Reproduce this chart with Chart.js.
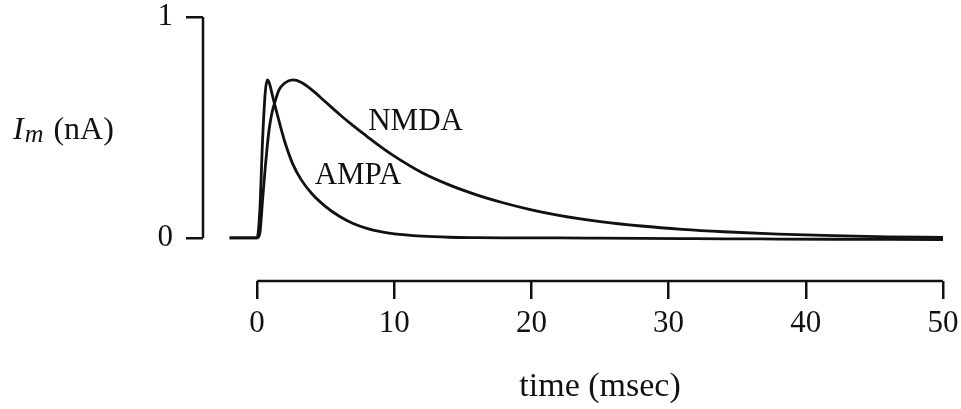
<!DOCTYPE html>
<html lang="en">

<head>
    <meta charset="UTF-8">
    <title>AMPA and NMDA currents</title>
    <script src="https://cdn.jsdelivr.net/npm/chart.js"></script>
    <style>
        body {
            margin: 0;
            background: #fff;
        }

        .wrap {
            width: 961px;
            height: 409px;
        }
    </style>
</head>

<body>
    <div class="wrap">
        <canvas id="currents"></canvas>
    </div>

    <script>
        // values
        const timeMs = [-2, 0, 0.2, 0.4, 0.6, 0.75, 0.9, 1.1, 1.3, 1.6, 2, 2.6, 3.2, 4, 5, 6, 7, 8, 9, 10,
            12, 14, 16, 18, 20, 22, 25, 28, 31, 34, 38, 42, 46, 50];
        const ampa = [0, 0, 0.12, 0.44, 0.66, 0.715, 0.7, 0.65, 0.6, 0.53, 0.44, 0.335, 0.265, 0.2, 0.142, 0.098, 0.065, 0.043, 0.028, 0.018,
            0.008, 0.003, 0.001, 0, 0, 0, -0.001, -0.002, -0.003, -0.004, -0.005, -0.006, -0.007, -0.008];
        const nmda = [0, 0, 0.02, 0.17, 0.32, 0.42, 0.5, 0.57, 0.615, 0.67, 0.7, 0.715, 0.705, 0.67, 0.615, 0.56, 0.508, 0.46, 0.413, 0.37,
            0.296, 0.24, 0.195, 0.158, 0.127, 0.102, 0.074, 0.054, 0.039, 0.028, 0.017, 0.01, 0.005, 0.002];
        const xTicks = [0, 10, 20, 30, 40, 50];
        const yTicks = [0, 1];

        const ink = '#111';
        const serif = '"Liberation Serif", "Times New Roman", serif';

        // axis lines, curve labels and axis titles
        const decorations = {
            id: 'decorations',
            afterDraw(chart) {
                const { ctx, chartArea, scales: { x, y } } = chart;
                ctx.save();
                ctx.strokeStyle = ink;
                ctx.lineWidth = 2.5;
                ctx.beginPath();
                ctx.moveTo(x.getPixelForValue(0), chartArea.bottom);
                ctx.lineTo(x.getPixelForValue(50), chartArea.bottom);
                ctx.moveTo(chartArea.left, y.getPixelForValue(0));
                ctx.lineTo(chartArea.left, y.getPixelForValue(1));
                ctx.stroke();

                ctx.fillStyle = ink;
                ctx.textBaseline = 'alphabetic';
                ctx.font = '31px ' + serif;
                ctx.textAlign = 'left';
                ctx.fillText('NMDA', x.getPixelForValue(8.1), y.getPixelForValue(0.49));
                ctx.fillText('AMPA', x.getPixelForValue(4.2), y.getPixelForValue(0.245));

                // x title
                ctx.font = '34px ' + serif;
                ctx.textAlign = 'center';
                ctx.fillText('time (msec)', x.getPixelForValue(25), 396);

                // y title: I with subscript m
                const base = y.getPixelForValue(0.45);
                let px = 13;
                ctx.textAlign = 'left';
                ctx.font = 'italic 32px ' + serif;
                ctx.fillText('I', px, base);
                px += ctx.measureText('I').width + 1;
                ctx.font = 'italic 26px ' + serif;
                ctx.fillText('m', px, base + 3);
                px += ctx.measureText('m').width + 10;
                ctx.font = '32px ' + serif;
                ctx.fillText('(nA)', px, base);
                ctx.restore();
            }
        };

        const ctx = document.getElementById('currents').getContext('2d');
        const currentsChart = new Chart(ctx, {
            type: 'line',
            data: {
                labels: timeMs,
                datasets: [
                    {
                        label: 'AMPA',
                        data: ampa,
                        borderColor: ink,
                        borderWidth: 2.8,
                        pointRadius: 0,
                        cubicInterpolationMode: 'monotone',
                        fill: false,
                    },
                    {
                        label: 'NMDA',
                        data: nmda,
                        borderColor: ink,
                        borderWidth: 2.8,
                        pointRadius: 0,
                        cubicInterpolationMode: 'monotone',
                        fill: false,
                    }
                ]
            },
            options: {
                responsive: true,
                maintainAspectRatio: false,
                animation: false,
                layout: {
                    padding: { left: 0, top: 17, right: 18, bottom: 0 }
                },
                scales: {
                    x: {
                        type: 'linear',
                        min: -3.94,
                        max: 50,
                        afterBuildTicks: (scale) => { scale.ticks = xTicks.map(v => ({ value: v })); },
                        afterFit: (scale) => {
                            scale.height = 128;
                            scale.paddingLeft = 0;
                            scale.paddingRight = 0;
                        },
                        border: { display: false },
                        grid: {
                            drawOnChartArea: false,
                            drawTicks: true,
                            tickLength: 18,
                            color: ink,
                            lineWidth: 2.5,
                        },
                        ticks: {
                            autoSkip: false,
                            maxRotation: 0,
                            padding: 6,
                            color: ink,
                            font: { family: serif, size: 31 },
                        }
                    },
                    y: {
                        min: -0.195,
                        max: 1,
                        afterBuildTicks: (scale) => { scale.ticks = yTicks.map(v => ({ value: v })); },
                        afterFit: (scale) => {
                            scale.width = 203;
                            scale.paddingTop = 0;
                            scale.paddingBottom = 0;
                        },
                        border: { display: false },
                        grid: {
                            drawOnChartArea: false,
                            drawTicks: true,
                            tickLength: 17,
                            color: ink,
                            lineWidth: 2.5,
                        },
                        ticks: {
                            padding: 13,
                            color: ink,
                            font: { family: serif, size: 31 },
                        }
                    }
                },
                plugins: {
                    legend: { display: false },
                    tooltip: { enabled: false },
                }
            },
            plugins: [decorations]
        });
    </script>
</body>

</html>
